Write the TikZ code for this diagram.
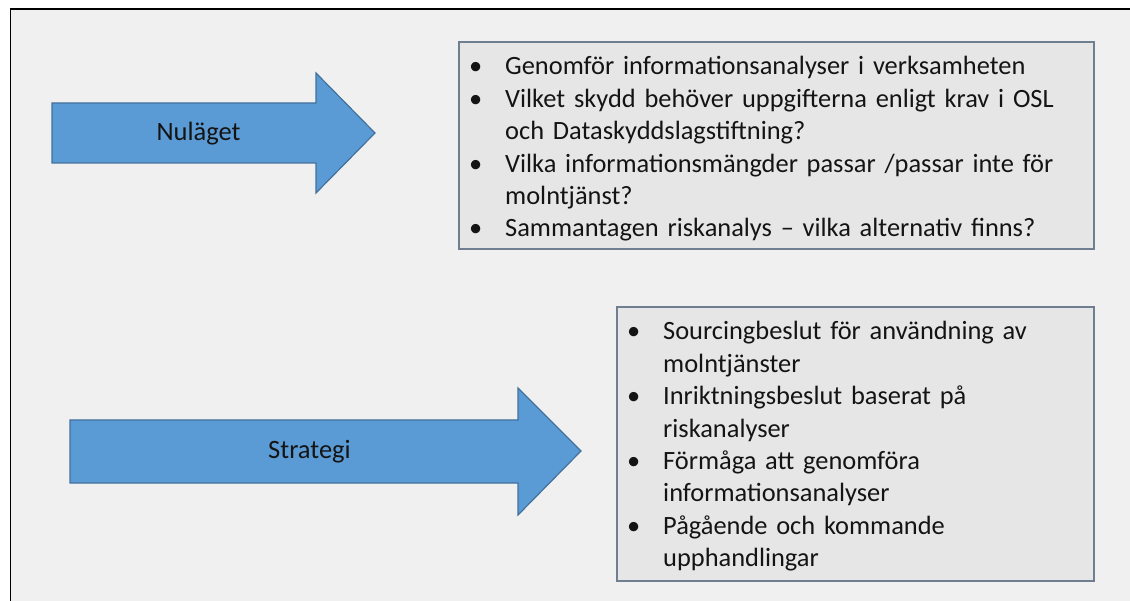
\documentclass[tikz,border=0pt]{standalone}
\usepackage{fontspec}
\setmainfont{Carlito}
\definecolor{bgray}{HTML}{F0F0F0}
\definecolor{boxfill}{HTML}{E7E6E6}
\definecolor{boxline}{HTML}{707F90}
\definecolor{arrfill}{HTML}{5B9BD5}
\definecolor{arrline}{HTML}{41719C}
\definecolor{txt}{HTML}{141414}
\newcommand{\bitem}[1]{\hangindent=36pt\hangafter=1\noindent\makebox[36pt][l]{•}#1\par}
\tikzset{
  bigarrow/.style={fill=arrfill, draw=arrline, line width=1.2pt, line join=miter},
  arrlabel/.style={font=\fontsize{26.5}{30}\selectfont, text=txt, inner sep=0pt},
  listbox/.style={fill=boxfill, draw=boxline, line width=1.5pt},
  listtext/.style={font=\fontsize{26.4}{32.4}\selectfont, text=txt, inner sep=0pt, align=left, anchor=base west}
}
\begin{document}
\begin{tikzpicture}[x=1pt,y=-1pt]
\useasboundingbox (0,0) rectangle (1130,601);
\fill[white] (0,0) rectangle (1130,601);
\fill[bgray] (10.5,9) rectangle (1130,601);
\draw[black, line width=1.6pt] (10.5,601) -- (10.5,9) -- (1130,9);

% arrow 1
\draw[bigarrow] (52,103) -- (316,103) -- (316,73) -- (375,133) -- (316,193) -- (316,163) -- (52,163) -- cycle;
\node[arrlabel] (nulaget) at (198.5,134) {Nuläget};

% arrow 2
\draw[bigarrow] (70,420) -- (518,420) -- (518,388) -- (581,451) -- (518,515) -- (518,483) -- (70,483) -- cycle;
\node[arrlabel] (strategi) at (309.5,452) {Strategi};

% box 1
\draw[listbox] (459,42) rectangle (1094,249);
\node[listtext, text width=620pt] (list1) at (469,75) {%
\bitem{Genomför informationsanalyser i verksamheten}%
\bitem{Vilket skydd behöver uppgifterna enligt krav i OSL\newline och Dataskyddslagstiftning?}%
\bitem{Vilka informationsmängder passar /passar inte för\newline molntjänst?}%
\bitem{Sammantagen riskanalys – vilka alternativ finns?}};

% box 2
\draw[listbox] (617,307) rectangle (1094,581);
\node[listtext, text width=460pt] (list2) at (627,340) {%
\bitem{Sourcingbeslut för användning av\newline molntjänster}%
\bitem{Inriktningsbeslut baserat på\newline riskanalyser}%
\bitem{Förmåga att genomföra\newline informationsanalyser}%
\bitem{Pågående och kommande\newline upphandlingar}};
\end{tikzpicture}
\end{document}
